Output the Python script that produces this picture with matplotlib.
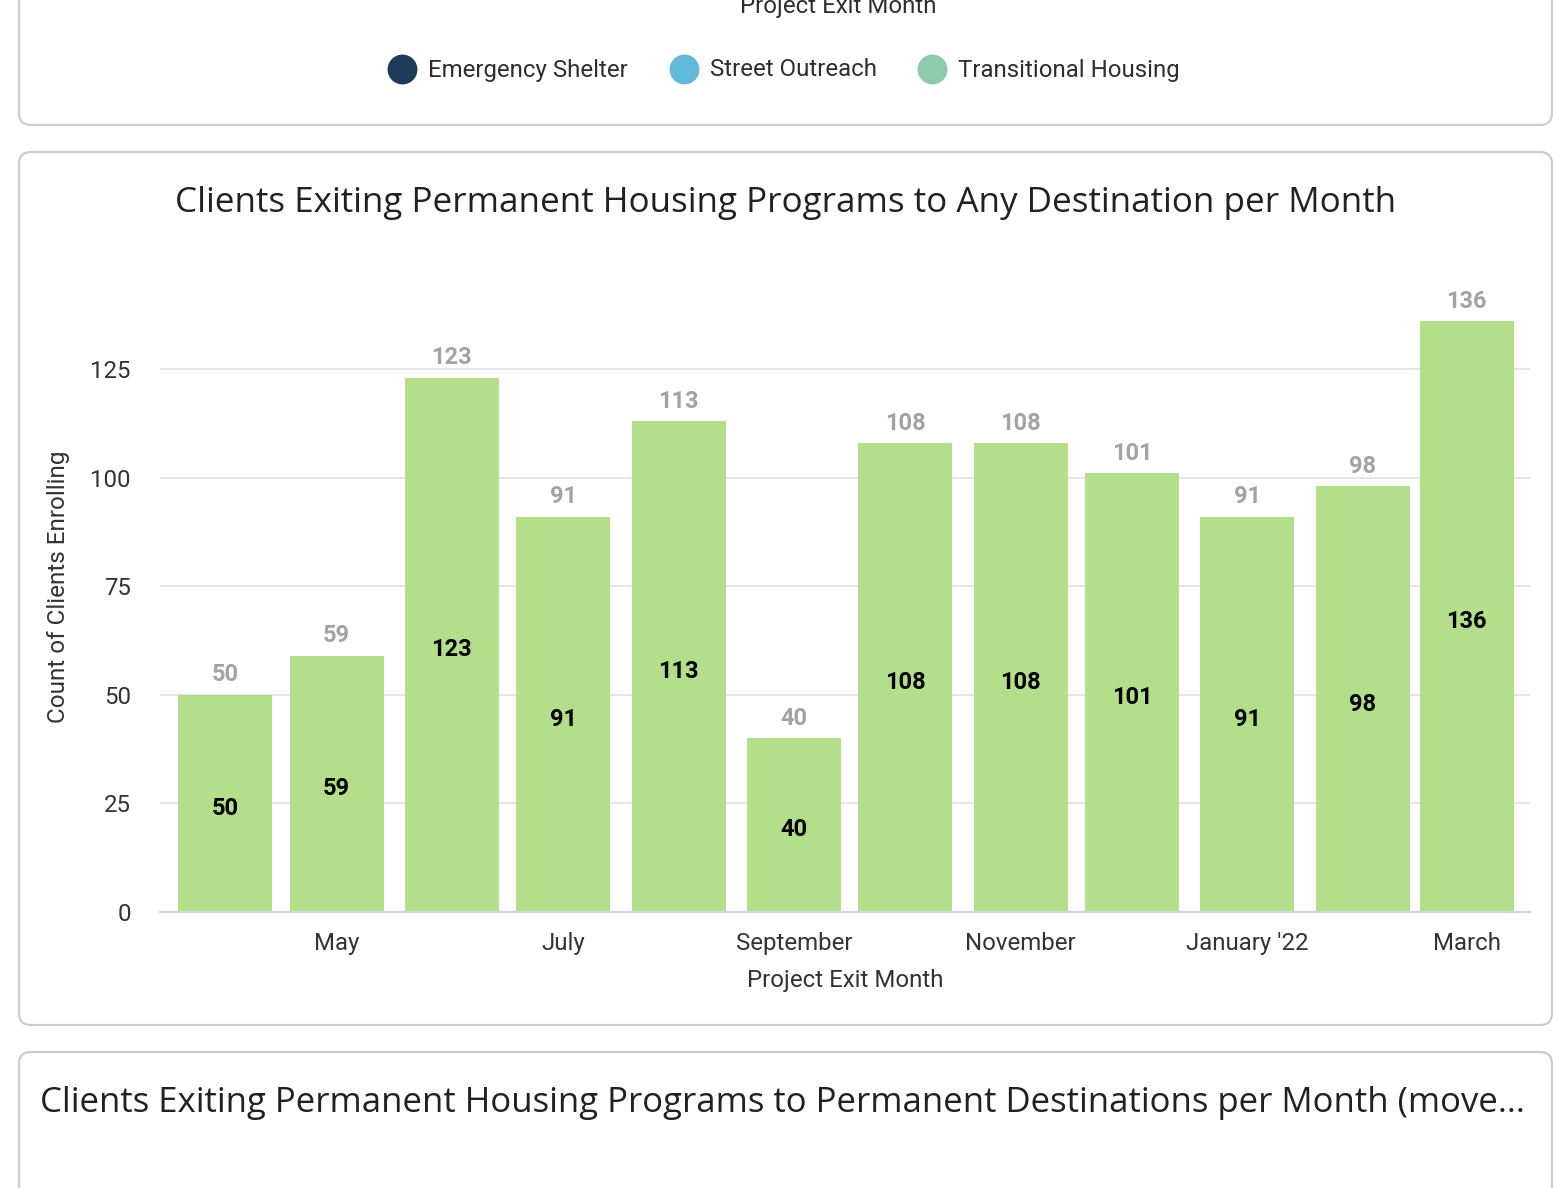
import datetime as dt
import matplotlib
matplotlib.use("Agg")
import matplotlib.pyplot as plt
import matplotlib.dates as mdates
from matplotlib.patches import FancyBboxPatch

plt.rcParams['font.family'] = ['Roboto', 'DejaVu Sans']

# data
months = [dt.date(2021, 4, 1), dt.date(2021, 5, 1), dt.date(2021, 6, 1), dt.date(2021, 7, 1),
          dt.date(2021, 8, 1), dt.date(2021, 9, 1), dt.date(2021, 10, 1), dt.date(2021, 11, 1),
          dt.date(2021, 12, 1), dt.date(2022, 1, 1), dt.date(2022, 2, 1), dt.date(2022, 3, 1)]
exits = [50, 59, 123, 91, 113, 40, 108, 108, 101, 91, 98, 136]
tick_dates = [dt.date(2021, 5, 1), dt.date(2021, 7, 1), dt.date(2021, 9, 1),
              dt.date(2021, 11, 1), dt.date(2022, 1, 1), dt.date(2022, 3, 1)]
tick_labels = ["May", "July", "September", "November", "January '22", "March"]
legend_names = ["Emergency Shelter", "Street Outreach", "Transitional Housing"]
legend_colors = ["#1f3b5a", "#62bad9", "#8fcbab"]

W, H = 1553, 1188
fig = plt.figure(figsize=(W / 100, H / 100), dpi=100)
fig.patch.set_facecolor("white")

# background layer in pixel coords
bg = fig.add_axes([0, 0, 1, 1])
bg.set_xlim(0, W)
bg.set_ylim(H, 0)
bg.axis("off")

border = "#c9cdd2"
for y0, y1 in [(-40, 125), (152, 1025), (1052, 1260)]:
    bg.add_patch(FancyBboxPatch((19, y0), 1533, y1 - y0,
                                boxstyle="round,pad=0,rounding_size=12",
                                fc="white", ec=border, lw=1.6))

text_dark = "#2b2f33"
# axis title of the panel above, cut by the top edge as in the screenshot
bg.text(838, 6, "Project Exit Month", ha="center", va="center", fontsize=17.3, color=text_dark)

# legend of the panel above
leg_x = [402, 684, 932]
for x, name, c in zip(leg_x, legend_names, legend_colors):
    bg.scatter([x], [69], s=420, color=c, zorder=3)
    bg.text(x + 26, 70, name, ha="left", va="center", fontsize=17.3, color=text_dark)

title_font = ["Open Sans", "DejaVu Sans"]
bg.text(786, 203, "Clients Exiting Permanent Housing Programs to Any Destination per Month",
        ha="center", va="center", fontsize=25.2, color="#202124", family=title_font)
bg.text(40, 1103, "Clients Exiting Permanent Housing Programs to Permanent Destinations per Month (move...",
        ha="left", va="center", fontsize=25.0, color="#202124", family=title_font)

bg.text(845, 981, "Project Exit Month", ha="center", va="center", fontsize=17.3, color="#333333")
bg.text(59, 587, "Count of Clients Enrolling", ha="center", va="center", rotation=90,
        fontsize=17.5, color="#333333")

# main chart
ax = fig.add_axes([160 / W, 1 - 912 / H, 1370 / W, 622 / H])
ax.patch.set_alpha(0)
x = mdates.date2num(months)
ax.bar(x, exits, width=25.3, color="#b3df8b", zorder=2)

for xi, v in zip(x, exits):
    ax.annotate(str(v), (xi, v), xytext=(0, 6), textcoords="offset points",
                ha="center", va="bottom", fontsize=17, fontweight="bold", color="#a3a3a3")
    ax.annotate(str(v), (xi, v / 2), xytext=(0, -3.5), textcoords="offset points",
                ha="center", va="center", fontsize=17, fontweight="bold", color="black", zorder=3)

ax.set_xlim(x[0] - 17.5, x[-1] + 17)
ax.set_ylim(0, 143.2)
ax.set_yticks([0, 25, 50, 75, 100, 125])
ax.set_xticks(mdates.date2num(tick_dates))
ax.set_xticklabels(tick_labels)
ax.grid(axis="y", color="#e6e6e6", lw=1.4, zorder=0)
ax.tick_params(axis="both", length=0, labelsize=17.3, labelcolor="#333333")
ax.tick_params(axis="x", pad=14.5)
ax.tick_params(axis="y", pad=21)
for s in ["top", "right", "left"]:
    ax.spines[s].set_visible(False)
ax.spines["bottom"].set_color("#ccd6eb")
ax.spines["bottom"].set_linewidth(1.6)
ax.spines["bottom"].set_zorder(3)

fig.savefig("out.png", dpi=100, facecolor="white")
